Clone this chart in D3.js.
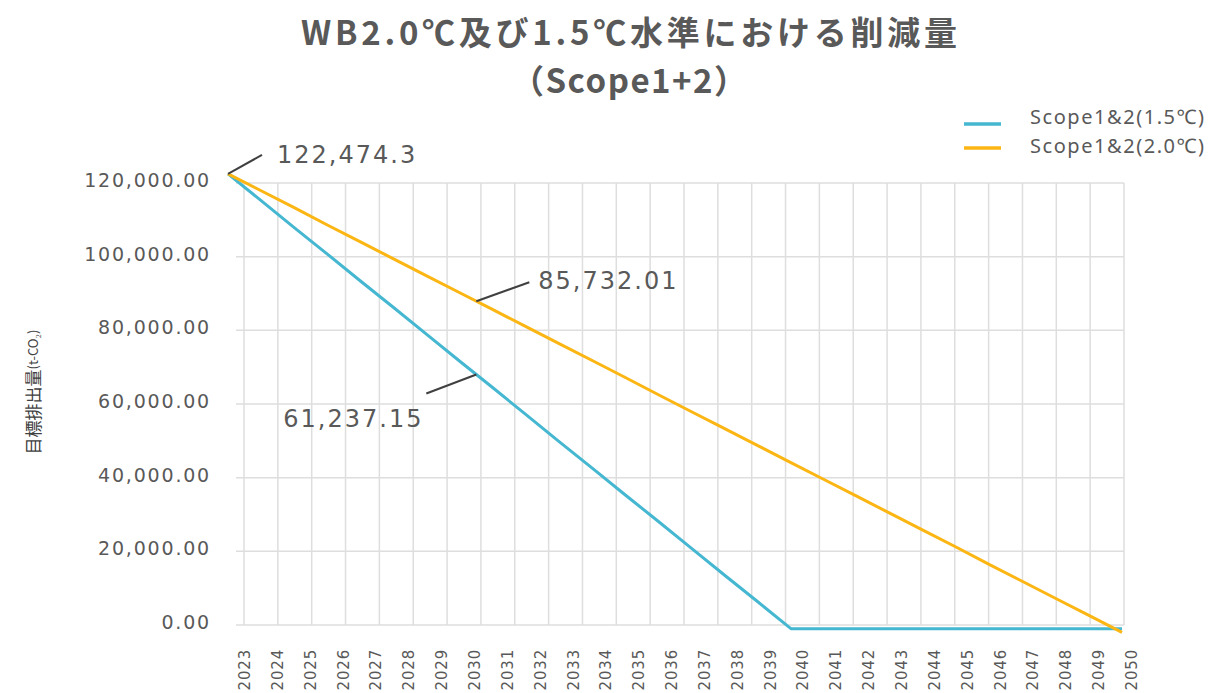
<!DOCTYPE html>
<html><head><meta charset="utf-8">
<script src="https://cdn.jsdelivr.net/npm/d3@7"></script>
<style>body{margin:0;background:#fff;} svg{display:block}</style>
</head><body><svg id="c" width="1213" height="693"></svg>
<script>
const years = [2023,2024,2025,2026,2027,2028,2029,2030,2031,2032,2033,2034,2035,2036,2037,2038,2039,2040,2041,2042,2043,2044,2045,2046,2047,2048,2049,2050];
const scope15 = [122474.3,115200,107900,100700,93400,86200,78900,71600,64400,57100,49800,42600,35300,28100,20800,13500,6300,-1000,-1000,-1000,-1000,-1000,-1000,-1000,-1000,-1000,-1000,-1000];
const scope20 = [122474.3,117900,113300,108600,104000,99400,94800,90200,85600,81000,76400,71800,67200,62500,57900,53300,48700,44100,39500,34900,30300,25700,21100,16400,11800,7200,2600,-2000];
const yTicks = [0,20000,40000,60000,80000,100000,120000];
const yTickLabels = ["0.00","20,000.00","40,000.00","60,000.00","80,000.00","100,000.00","120,000.00"];
const seriesNames = ["Scope1&2(1.5℃)","Scope1&2(2.0℃)"];
const seriesColors = ["#45b7d1","#fbb614"];
const titleLines = ["WB2.0℃及び1.5℃水準における削減量","（Scope1+2）"];
const yTitleMain = "目標排出量";
const yTitleUnit = "(t-CO₂)";
const annTexts = ["122,474.3","85,732.01","61,237.15"];
const annYears = [2023,2030.5,2030.5];
const annValues = [122474.3,87900,68000];

const svg = d3.select("#c");
const x = d3.scaleLinear().domain([2023,2050]).range([228,1122]);
const y = d3.scaleLinear().domain([0,120000]).range([625,183]);
const gx = d3.scaleLinear().domain([0,26]).range([244,1124]);
const lx = d3.scalePoint().domain(years).range([245,1132]);
const grey = "#595959";

// grid
const g = svg.append("g");
g.selectAll("line.v").data(d3.range(27)).join("line")
  .attr("x1",d=>gx(d)).attr("x2",d=>gx(d)).attr("y1",y(120000)).attr("y2",y(0))
  .attr("stroke","#dedede").attr("stroke-width",1.5);
g.selectAll("line.h").data(yTicks).join("line")
  .attr("x1",236).attr("x2",1124).attr("y1",d=>y(d)).attr("y2",d=>y(d))
  .attr("stroke","#dedede").attr("stroke-width",1.5);

// y tick labels
svg.selectAll("text.yt").data(yTicks).join("text")
  .attr("x",211).attr("y",d=>y(d)-3).attr("text-anchor","end").attr("dominant-baseline","central")
  .attr("font-family","DejaVu Sans").attr("font-size",19).attr("letter-spacing",1.8).attr("fill",grey)
  .text((d,i)=>yTickLabels[i]);

// x labels
svg.selectAll("text.xt").data(years).join("text")
  .attr("transform",d=>`translate(${lx(d)},649) rotate(-90)`)
  .attr("text-anchor","end").attr("dominant-baseline","central")
  .attr("font-family","DejaVu Sans").attr("font-size",15).attr("letter-spacing",0.8).attr("fill",grey)
  .text(d=>d);

// lines
const line = d3.line().x((d,i)=>x(years[i])).y(d=>y(d));
[scope15,scope20].forEach((s,k)=>{
  svg.append("path").attr("d",line(s)).attr("fill","none").attr("stroke",seriesColors[k])
    .attr("stroke-width",3).attr("stroke-linejoin","round");
});

// annotations
const annLayout = [[34,-19,49,-11],[53,-19,62,-12],[-50,19,-193,52]];
annTexts.forEach((t,i)=>{
  const ax = x(annYears[i]), ay = y(annValues[i]);
  const L = annLayout[i];
  svg.append("line").attr("x1",ax).attr("y1",ay).attr("x2",ax+L[0]).attr("y2",ay+L[1])
    .attr("stroke","#404040").attr("stroke-width",2);
  svg.append("text").attr("x",ax+L[2]).attr("y",ay+L[3])
    .attr("font-family","DejaVu Sans").attr("font-size",24).attr("letter-spacing",2).attr("fill",grey)
    .text(t);
});

// title
svg.selectAll("text.title").data(titleLines).join("text")
  .attr("x",629).attr("y",(d,i)=>[45,93][i]).attr("text-anchor","middle")
  .attr("font-family","'Noto Sans CJK JP'").attr("font-weight","bold").attr("font-size",33).attr("fill",grey)
  .attr("textLength",(d,i)=>[656,236][i]).attr("lengthAdjust","spacing")
  .text(d=>d);

// legend
seriesNames.forEach((n,i)=>{
  const ly = [124,148][i];
  svg.append("line").attr("x1",964).attr("x2",1001).attr("y1",ly).attr("y2",ly)
    .attr("stroke",seriesColors[i]).attr("stroke-width",3.5);
  svg.append("text").attr("x",1030).attr("y",[124,153][i]).attr("font-family","'Noto Sans'").attr("font-size",20)
    .attr("fill",grey).attr("textLength",174).attr("lengthAdjust","spacing").text(n);
});

// y axis title
const yt = svg.append("text").attr("transform","translate(32,392) rotate(-90)")
  .attr("text-anchor","middle").attr("dominant-baseline","central")
  .attr("font-family","'Noto Sans CJK JP'").attr("fill","#404040");
yt.append("tspan").attr("font-size",17).text(yTitleMain);
yt.append("tspan").attr("font-size",13).text(yTitleUnit);
</script></body></html>
